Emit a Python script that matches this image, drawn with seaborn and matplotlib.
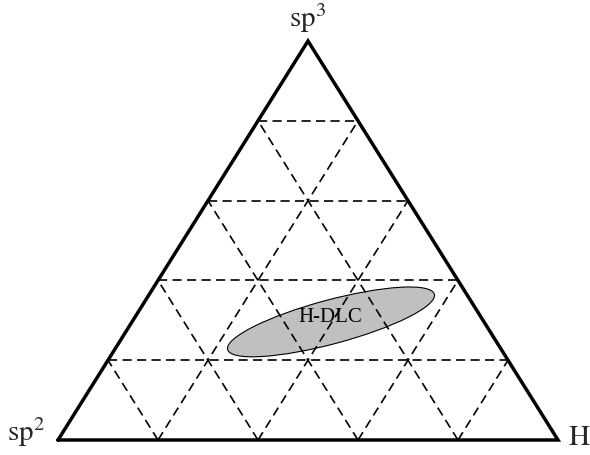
"""
Ternary phase diagram (sp2 / sp3 / H) with the H-DLC region
"""

import numpy as np
import pandas as pd
import matplotlib
matplotlib.use("Agg")
import matplotlib.pyplot as plt
from matplotlib.patches import Ellipse
import seaborn as sns

# corner labels
corner_labels = [r"$\mathrm{sp}^2$", r"$\mathrm{H}$", r"$\mathrm{sp}^3$"]
# grid fractions along each side
grid_fracs = [0.2, 0.4, 0.6, 0.8]
# H-DLC region (base fraction, height fraction, size as fraction of base, angle)
region_name = "H-DLC"
region_center = [0.546, 0.296]
region_size = [0.428, 0.088]
region_angle = 15

# triangle height relative to base (drawing is squashed a bit)
H = 0.798

sns.set_theme(style="white")
plt.rcParams["mathtext.fontset"] = "stix"
plt.rcParams["font.family"] = ["Liberation Serif", "DejaVu Serif"]

fig = plt.figure(figsize=(5.9, 4.56), dpi=100)
ax = fig.add_axes([0, 0, 1, 1])

# triangle outline
tri = pd.DataFrame({"x": [0, 1, 0.5, 0], "y": [0, 0, H, 0]})

# dashed grid segments
rows = []
for i, t in enumerate(grid_fracs):
    # horizontal (constant sp3)
    rows += [(f"h{i}", 0.5 * t, t * H), (f"h{i}", 1 - 0.5 * t, t * H)]
    # parallel to left side
    rows += [(f"l{i}", t, 0), (f"l{i}", t + 0.5 * (1 - t), (1 - t) * H)]
    # parallel to right side
    rows += [(f"r{i}", t, 0), (f"r{i}", 0.5 * t, t * H)]
grid = pd.DataFrame(rows, columns=["seg", "x", "y"])

# region ellipse (behind the grid)
cx, cy = region_center
ell = Ellipse((cx, cy * H), region_size[0], region_size[1], angle=region_angle,
              facecolor="#c0c0c0", edgecolor="black", linewidth=0.8, zorder=1)
ax.add_patch(ell)

sns.lineplot(data=grid, x="x", y="y", units="seg", estimator=None, sort=False,
             color="black", linewidth=1.2, linestyle=(0, (5.5, 3.2)), ax=ax, zorder=2)
sns.lineplot(data=tri, x="x", y="y", estimator=None, sort=False,
             color="black", linewidth=2.5, ax=ax, zorder=3)
ax.lines[-1].set_solid_joinstyle("miter")

ax.text(cx - 0.002, cy * H + 0.01, region_name, fontsize=15, ha="center",
        va="center", color="black", zorder=4)

ax.text(-0.025, 0.0, corner_labels[0], fontsize=21, ha="right", va="baseline")
ax.text(1.02, -0.008, corner_labels[1], fontsize=21, ha="left", va="baseline")
ax.text(0.5, H + 0.03, corner_labels[2], fontsize=21, ha="center", va="baseline")

ax.set_xlim(-0.116, 1.064)
ax.set_ylim(-0.03, 0.882)
ax.set_aspect("auto")
ax.axis("off")

fig.savefig("out.png", dpi=100)
plt.close(fig)
